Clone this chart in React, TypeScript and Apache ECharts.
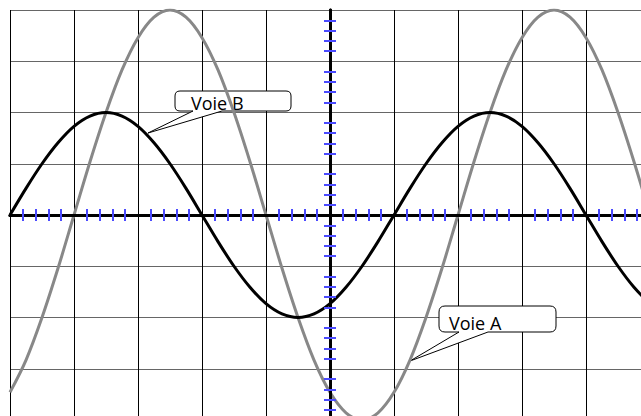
import React, { useEffect, useRef } from "react";
import * as echarts from "echarts";

// Horizontal positions (divisions) of the sampled points
const T_VALUES = [
  -5, -4.75, -4.5, -4.25, -4, -3.75, -3.5, -3.25, -3, -2.75, -2.5, -2.25, -2, -1.75, -1.5, -1.25, -1, -0.75, -0.5, -0.25,
  0, 0.25, 0.5, 0.75, 1, 1.25, 1.5, 1.75, 2, 2.25, 2.5, 2.75, 3, 3.25, 3.5, 3.75, 4, 4.25, 4.5, 4.75, 5,
];
// Voie A (grey) in divisions
const VOIE_A = [
  -3.46, -2.83, -2, -1.04, 0, 1.04, 2, 2.83, 3.46, 3.86, 4, 3.86, 3.46, 2.83, 2, 1.04, 0, -1.04, -2, -2.83,
  -3.46, -3.86, -4, -3.86, -3.46, -2.83, -2, -1.04, 0, 1.04, 2, 2.83, 3.46, 3.86, 4, 3.86, 3.46, 2.83, 2, 1.04, 0,
];
// Voie B (black) in divisions
const VOIE_B = [
  0, 0.52, 1, 1.41, 1.73, 1.93, 2, 1.93, 1.73, 1.41, 1, 0.52, 0, -0.52, -1, -1.41, -1.73, -1.93, -2, -1.93,
  -1.73, -1.41, -1, -0.52, 0, 0.52, 1, 1.41, 1.73, 1.93, 2, 1.93, 1.73, 1.41, 1, 0.52, 0, -0.52, -1, -1.41, -1.73,
];

const X_MIN = -5;
const X_MAX = 5;
const Y_MIN = -4;
const Y_MAX = 4;

const LABEL_A = "Voie A";
const LABEL_B = "Voie B";

const CALLOUT_B =
  "M180,91 L286,91 Q291,91 291,96 L291,106 Q291,111 286,111 L222,111 L148,133 L193,111 L180,111 Q175,111 175,106 L175,96 Q175,91 180,91 Z";
const CALLOUT_A =
  "M445,306 L550,306 Q556,306 556,312 L556,326 Q556,332 550,332 L488,332 L410,361 L459,332 L445,332 Q439,332 439,326 L439,312 Q439,306 445,306 Z";

echarts.graphic.registerShape("calloutB", echarts.graphic.extendPath(CALLOUT_B, {}) as any);
echarts.graphic.registerShape("calloutA", echarts.graphic.extendPath(CALLOUT_A, {}) as any);

const TICK_COLOR = "#4b4bff";

function tickAxis(position: string, z: number) {
  return {
    type: "value",
    min: 0,
    max: 0,
    interval: 1,
    position,
    z,
    axisLine: { show: true, onZero: true, onZeroAxisIndex: 0, lineStyle: { color: "#000", width: 3 } },
    axisTick: { show: false },
    minorTick: { show: true, splitNumber: 5, length: 6, lineStyle: { color: TICK_COLOR, width: 2 } },
    axisLabel: { show: false },
    splitLine: { show: false },
  };
}

function gridAxis(color: string) {
  return {
    type: "value",
    interval: 1,
    z: 0,
    axisLine: { show: false, onZero: false },
    axisTick: { show: false },
    axisLabel: { show: false },
    splitLine: { show: true, lineStyle: { color, width: 1 } },
  };
}

export default function App() {
  const ref = useRef<HTMLDivElement>(null);
  useEffect(() => {
    if (!ref.current) return;
    const chart = echarts.init(ref.current, null, { renderer: "svg" });
    const xr = { min: X_MIN, max: X_MAX };
    const yr = { min: Y_MIN, max: Y_MAX };
    const option: any = {
      animation: false,
      backgroundColor: "#fff",
      grid: { left: 10, top: 10, width: 640, height: 410, outerBoundsMode: "none", containLabel: false },
      xAxis: [
        { ...tickAxis("bottom", 3), ...xr },
        { ...tickAxis("top", 3), ...xr },
        { ...gridAxis("#000"), ...xr },
      ],
      yAxis: [
        { ...tickAxis("left", 3), ...yr },
        { ...tickAxis("right", 3), ...yr },
        { ...gridAxis("#666"), ...yr },
      ],
      graphic: [
        { type: "calloutB", x: 0, y: 0, z: 1, style: { fill: "#fff", stroke: "#000", lineWidth: 1 } },
        { type: "calloutA", x: 0, y: 0, z: 1, style: { fill: "#fff", stroke: "#000", lineWidth: 1 } },
        {
          type: "text", x: 191, y: 103, z: 1, z2: 10,
          style: { text: LABEL_B, font: '18px "Open Sans"', fill: "#000", verticalAlign: "middle", align: "left" },
        },
        {
          type: "text", x: 449, y: 323, z: 1, z2: 10,
          style: { text: LABEL_A, font: '18px "Open Sans"', fill: "#000", verticalAlign: "middle", align: "left" },
        },
      ],
      series: [
        {
          name: LABEL_A,
          type: "line",
          xAxisIndex: 0,
          yAxisIndex: 0,
          data: T_VALUES.map((t, i) => [t, VOIE_A[i]]),
          smooth: 0.33,
          showSymbol: false,
          lineStyle: { color: "#888", width: 3 },
          z: 2,
        },
        {
          name: LABEL_B,
          type: "line",
          xAxisIndex: 0,
          yAxisIndex: 0,
          data: T_VALUES.map((t, i) => [t, VOIE_B[i]]),
          smooth: 0.33,
          showSymbol: false,
          lineStyle: { color: "#000", width: 3 },
          z: 2,
        },
      ],
    };
    chart.setOption(option);
    return () => chart.dispose();
  }, []);
  return (
    <div
      ref={ref}
      style={{ position: "absolute", left: 0, top: 0, width: 641, height: 416, overflow: "hidden", background: "#fff" }}
    />
  );
}
